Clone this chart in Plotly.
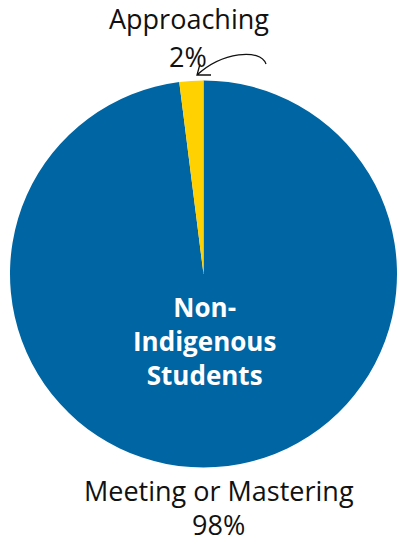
import plotly.graph_objects as go

# Share of Non-Indigenous students by performance level
categories = ["Meeting or Mastering", "Approaching"]
values = [98, 2]
colors = ["#0065a3", "#ffd100"]
group_label = "Non-<br>Indigenous<br>Students"

W, H = 397, 544


def px(x, y):
    """Convert pixel position to paper coordinates."""
    return x / W, 1 - y / H


fig = go.Figure(
    go.Pie(
        labels=categories,
        values=values,
        marker=dict(colors=colors, line=dict(width=0)),
        sort=False,
        direction="clockwise",
        rotation=0,
        textinfo="none",
        hoverinfo="label+percent",
        domain=dict(x=[10 / W, 1.0], y=[1 - 468 / H, 1 - 80 / H]),
        showlegend=False,
    )
)

font_family = "Open Sans"
label_font = dict(family=font_family, size=27, color="#111111")


def note(xp, yp, text, font, yanchor="middle"):
    x, y = px(xp, yp)
    return dict(x=x, y=y, xref="paper", yref="paper", showarrow=False,
                xanchor="center", yanchor=yanchor, align="center",
                borderpad=0, text=text, font=font)


annotations = [
    # Bottom label for the large slice
    note(219, 490, categories[0], label_font),
    note(219, 544, f"{values[0]}%", label_font, yanchor="bottom"),
    # Top label for the small slice
    note(189, 19, categories[1], label_font),
    note(188, 57, f"{values[1]}%", label_font),
    # Group label in the centre of the pie
    note(205, 341, group_label,
         dict(family=font_family, size=26, color="white", weight="bold")),
]

# Hand-drawn style curved arrow pointing at the small slice
p0 = px(266, 64)
c1 = px(260, 48)
c2 = px(222, 52)
p1 = px(197, 75)
h1 = px(200, 64)
h2 = px(211, 75)
path = (
    f"M {p0[0]},{p0[1]} C {c1[0]},{c1[1]} {c2[0]},{c2[1]} {p1[0]},{p1[1]} "
    f"M {h1[0]},{h1[1]} L {p1[0]},{p1[1]} L {h2[0]},{h2[1]}"
)
shapes = [dict(type="path", xref="paper", yref="paper", path=path,
               line=dict(color="#111111", width=1.3))]

fig.update_layout(
    width=W, height=H,
    margin=dict(l=0, r=0, t=0, b=0),
    paper_bgcolor="white",
    plot_bgcolor="white",
    annotations=annotations,
    shapes=shapes,
)

fig.write_html("out.html")
